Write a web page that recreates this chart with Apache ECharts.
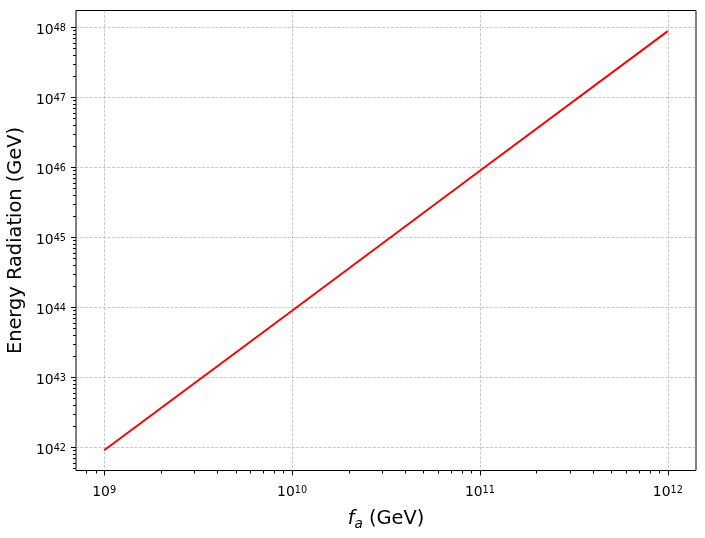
<!DOCTYPE html>
<html><head><meta charset="utf-8">
<script src="https://cdn.jsdelivr.net/npm/echarts@6/dist/echarts.min.js"></script>
<style>html,body{margin:0;padding:0;background:#fff}#c{width:705px;height:538px}</style>
</head><body><div id="c"></div>
<script>
// ---- data ----
const fa = [1e9, 1e10, 1e11, 1e12];
const energy = [9.0e41, 8.9e43, 8.9e45, 8.8e47];
// ---- ticks ----
const xMajorTicks = [1e9, 1e10, 1e11, 1e12];
const yMajorTicks = [1e42, 1e43, 1e44, 1e45, 1e46, 1e47, 1e48];
const minorMultipliers = [2, 3, 4, 5, 6, 7, 8, 9];
const xDecades = [8, 9, 10, 11, 12];
const yDecades = [41, 42, 43, 44, 45, 46, 47, 48];

const X_MIN = Math.pow(10, 8.85), X_MAX = Math.pow(10, 12.15);
const Y_MIN = Math.pow(10, 41.665), Y_MAX = Math.pow(10, 48.24);

function minorList(decades, lo, hi) {
  const out = [];
  decades.forEach(d => minorMultipliers.forEach(m => {
    const v = m * Math.pow(10, d);
    if (v > lo && v < hi) out.push(v);
  }));
  return out;
}
const xMinorTicks = minorList(xDecades, X_MIN, X_MAX);
const yMinorTicks = minorList(yDecades, Y_MIN, Y_MAX);

const FONT = 'DejaVu Sans';
const GRID_STYLE = {stroke: '#b0b0b0', lineWidth: 0.7, lineDash: [3, 1.5]};
const TICK_STYLE = {stroke: '#000', lineWidth: 1};

function expLabel(v) {
  const e = Math.log10(v);
  const r = Math.round(e);
  if (Math.abs(e - r) > 1e-6) return '';
  return '{b|10}{s|' + r + '}';
}
const labelRich = {
  b: {fontSize: 13.9, fontFamily: FONT, color: '#000', verticalAlign: 'bottom', lineHeight: 20},
  s: {fontSize: 9.7, fontFamily: FONT, color: '#000', verticalAlign: 'bottom', lineHeight: 20, padding: [0, 0, 4, 0]}
};

function xTickSeries(values, major) {
  return {
    type: 'custom', coordinateSystem: 'cartesian2d', clip: false, silent: true, z: 1,
    data: values.map(v => [v, Y_MIN]),
    renderItem: function (params, api) {
      const cs = params.coordSys;
      const p = api.coord([api.value(0), api.value(1)]);
      const x = Math.round(p[0]) + 0.5;
      const bottom = cs.y + cs.height;
      const children = [{type: 'line', shape: {x1: x, y1: bottom, x2: x, y2: bottom + (major ? 5 : 3)}, style: TICK_STYLE}];
      if (major) children.push({type: 'line', shape: {x1: x, y1: cs.y, x2: x, y2: bottom}, style: GRID_STYLE});
      return {type: 'group', children: children};
    }
  };
}
function yTickSeries(values, major) {
  return {
    type: 'custom', coordinateSystem: 'cartesian2d', clip: false, silent: true, z: 1,
    data: values.map(v => [X_MIN, v]),
    renderItem: function (params, api) {
      const cs = params.coordSys;
      const p = api.coord([api.value(0), api.value(1)]);
      const y = Math.round(p[1]) + 0.5;
      const left = cs.x;
      const children = [{type: 'line', shape: {x1: left - (major ? 5 : 3), y1: y, x2: left, y2: y}, style: TICK_STYLE}];
      if (major) children.push({type: 'line', shape: {x1: left, y1: y, x2: cs.x + cs.width, y2: y}, style: GRID_STYLE});
      return {type: 'group', children: children};
    }
  };
}

const chart = echarts.init(document.getElementById('c'), null, {renderer: 'canvas'});
chart.setOption({
  animation: false,
  backgroundColor: '#fff',
  grid: {left: 76, right: 9, top: 10.5, bottom: 67.5, show: true, borderColor: '#000', borderWidth: 1, backgroundColor: 'transparent', containLabel: false, outerBoundsMode: 'none'},
  xAxis: {
    type: 'log', logBase: 10, min: X_MIN, max: X_MAX,
    axisLine: {show: false}, axisTick: {show: false}, splitLine: {show: false}, minorTick: {show: false},
    axisLabel: {formatter: expLabel, rich: labelRich, margin: 9, hideOverlap: false},
    name: '{it|f}{sub|a}{n| (GeV)}', nameLocation: 'middle', nameGap: 34,
    nameTextStyle: {
      rich: {
        it: {fontSize: 19.4, fontFamily: FONT, fontStyle: 'italic', color: '#000', verticalAlign: 'bottom', lineHeight: 24},
        sub: {fontSize: 13.6, fontFamily: FONT, fontStyle: 'italic', color: '#000', verticalAlign: 'bottom', lineHeight: 24, padding: [0, 0, -3, 0]},
        n: {fontSize: 19.4, fontFamily: FONT, color: '#000', verticalAlign: 'bottom', lineHeight: 24}
      }
    }
  },
  yAxis: {
    type: 'log', logBase: 10, min: Y_MIN, max: Y_MAX,
    axisLine: {show: false}, axisTick: {show: false}, splitLine: {show: false}, minorTick: {show: false},
    axisLabel: {formatter: expLabel, rich: labelRich, margin: 10, hideOverlap: false},
    name: 'Energy Radiation (GeV)', nameLocation: 'middle', nameGap: 47,
    nameTextStyle: {fontSize: 19.4, fontFamily: FONT, color: '#000'}
  },
  series: [
    xTickSeries(xMajorTicks, true),
    xTickSeries(xMinorTicks, false),
    yTickSeries(yMajorTicks, true),
    yTickSeries(yMinorTicks, false),
    {
      type: 'line', data: fa.map((x, i) => [x, energy[i]]), showSymbol: false, symbol: 'none',
      lineStyle: {color: '#ff0000', width: 2}, z: 5, silent: true
    }
  ]
});
</script>
</body></html>
